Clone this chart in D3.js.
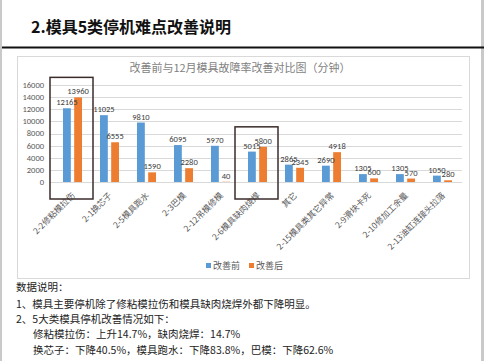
<!DOCTYPE html>
<html>
<head>
<meta charset="utf-8">
<script src="https://cdn.jsdelivr.net/npm/d3@7"></script>
<style>
  html, body { margin: 0; padding: 0; background: #fff; }
  svg { display: block; }
</style>
</head>
<body>
<svg id="page" width="484" height="361"></svg>
<script>
'use strict'

const categories = ['2-2修粘模拉伤', '2-1换芯子', '2-5模具跑水', '2-3巴模', '2-12吊模修模', '2-6模具缺肉烧焊', '其它', '2-15模具类其它异常', '2-9滑块卡死', '2-10修加工余量', '2-13油缸连接头拉落']
const before = [12165, 11025, 9810, 6095, 5970, 5015, 2865, 2690, 1305, 1305, 1050]
const after = [13960, 6555, 1590, 2280, 40, 5800, 2345, 4918, 600, 570, 280]
const seriesNames = ['改善前', '改善后']
const yTicks = [0, 2000, 4000, 6000, 8000, 10000, 12000, 14000, 16000]
const highlighted = ['2-2修粘模拉伤', '2-6模具缺肉烧焊']
const notes = [
    '数据说明：',
    '1、模具主要停机除了修粘模拉伤和模具缺肉烧焊外都下降明显。',
    '2、5大类模具停机改善情况如下：',
    '修粘模拉伤：上升14.7%，缺肉烧焊：14.7%',
    '换芯子：下降40.5%，模具跑水：下降83.8%，巴模：下降62.6%'
]

const cjk = '"Noto Sans CJK SC", "Noto Sans", sans-serif'
const num = 'Carlito, Calibri, "Liberation Sans", sans-serif'
const colors = ['#5B9BD5', '#ED7D31']

let svg = d3.select('#page')

// page frame
svg.append('rect').attr('x', 0).attr('y', 0).attr('width', 2).attr('height', 361).attr('fill', '#c9c9c9')
svg.append('rect').attr('x', 481).attr('y', 0).attr('width', 3).attr('height', 361).attr('fill', '#c9c9c9')

svg.append('text')
    .attr('x', 31).attr('y', 33)
    .attr('font-family', cjk).attr('font-weight', 'bold').attr('font-size', '16px').attr('fill', '#111')
    .text('2.模具5类停机难点改善说明')

svg.append('line').attr('x1', 2).attr('x2', 484).attr('y1', 47.5).attr('y2', 47.5)
    .attr('stroke', '#111').attr('stroke-width', 2)

// chart box
svg.append('rect').attr('x', 17.5).attr('y', 56.5).attr('width', 452).attr('height', 222)
    .attr('fill', '#fff').attr('stroke', '#d9d9d9')

svg.append('text')
    .attr('x', 240).attr('y', 72).attr('text-anchor', 'middle')
    .attr('font-family', cjk).attr('font-size', '11px').attr('fill', '#7f7f7f')
    .text('改善前与12月模具故障率改善对比图（分钟）')

let x0 = d3.scaleBand().domain(categories).range([54, 461]).paddingInner(0)
let x1 = d3.scaleBand().domain(seriesNames).range([9, 28]).paddingInner(0.3)
let y = d3.scaleLinear().domain([0, 16000]).range([182, 85])

let g = svg.append('g')

g.append('g')
    .selectAll('line')
    .data(yTicks)
    .enter()
    .append('line')
    .attr('x1', 50).attr('x2', 462)
    .attr('y1', d => Math.round(y(d)) + 0.5).attr('y2', d => Math.round(y(d)) + 0.5)
    .attr('stroke', '#d9d9d9')

g.append('g')
    .selectAll('text')
    .data(yTicks)
    .enter()
    .append('text')
    .attr('x', 44).attr('y', d => y(d)).attr('dy', '0.35em')
    .attr('text-anchor', 'end')
    .attr('font-family', num).attr('font-size', '8.5px').attr('fill', '#595959')
    .text(d => d)

let rows = categories.map((c, i) => ({ cat: c, vals: [before[i], after[i]] }))

let groups = g.append('g')
    .selectAll('g')
    .data(rows)
    .enter()
    .append('g')
    .attr('transform', d => `translate(${x0(d.cat)}, 0)`)

groups.selectAll('rect')
    .data(d => d.vals.map((v, k) => ({ key: seriesNames[k], value: v, k: k })))
    .enter()
    .append('rect')
    .attr('x', d => x1(d.key))
    .attr('y', d => y(d.value))
    .attr('width', x1.bandwidth())
    .attr('height', d => y(0) - y(d.value))
    .attr('fill', d => colors[d.k])

groups.selectAll('text')
    .data(d => d.vals.map((v, k) => ({ key: seriesNames[k], value: v })))
    .enter()
    .append('text')
    .attr('x', d => x1(d.key) + x1.bandwidth() / 2)
    .attr('y', d => y(d.value) - 3)
    .attr('text-anchor', 'middle')
    .attr('font-family', num).attr('font-size', '8.5px').attr('fill', '#404040')
    .text(d => d.value)

// category labels
g.append('g')
    .selectAll('text')
    .data(categories)
    .enter()
    .append('text')
    .attr('transform', d => `translate(${x0(d) + x0.bandwidth() / 2 + 3}, 196) rotate(-45)`)
    .attr('text-anchor', 'end')
    .attr('font-family', cjk).attr('font-size', '8.5px').attr('fill', '#595959')
    .text(d => d)

// highlight boxes
g.append('g')
    .selectAll('rect')
    .data(highlighted)
    .enter()
    .append('rect')
    .attr('x', d => x0(d) - 4)
    .attr('y', d => {
        let i = categories.indexOf(d)
        return y(Math.max(before[i], after[i])) - 20
    })
    .attr('width', x0.bandwidth() + 6)
    .attr('height', d => {
        let i = categories.indexOf(d)
        return 199 - (y(Math.max(before[i], after[i])) - 20)
    })
    .attr('fill', 'none').attr('stroke', '#3b2b2b').attr('stroke-width', 1.5)

// legend
let legend = svg.append('g')
    .selectAll('g')
    .data(seriesNames)
    .enter()
    .append('g')
    .attr('transform', (d, i) => `translate(${206 + i * 43}, 266)`)

legend.append('rect').attr('x', 0).attr('y', -3).attr('width', 5).attr('height', 5).attr('fill', (d, i) => colors[i])
legend.append('text').attr('x', 7).attr('y', 0).attr('dy', '0.35em')
    .attr('font-family', cjk).attr('font-size', '9px').attr('fill', '#595959')
    .text(d => d)

// notes below chart
svg.append('g')
    .selectAll('text')
    .data(notes)
    .enter()
    .append('text')
    .attr('x', (d, i) => i >= 3 ? 33 : 16)
    .attr('y', (d, i) => [291, 308, 323, 338, 354][i])
    .attr('font-family', cjk).attr('font-size', '10.5px').attr('fill', '#222')
    .text(d => d)
</script>
</body>
</html>
